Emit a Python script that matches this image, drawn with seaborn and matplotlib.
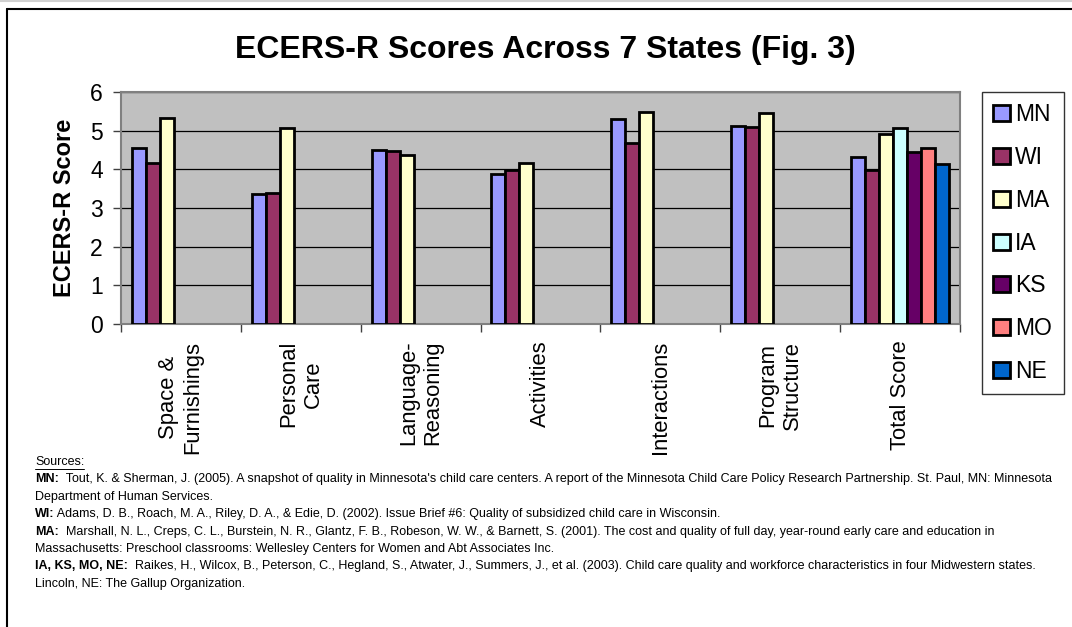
import pandas as pd
import matplotlib.pyplot as plt
import seaborn as sns
from matplotlib.lines import Line2D

# Data
categories = ['Space &\nFurnishings', 'Personal\nCare', 'Language-\nReasoning', 'Activities',
              'Interactions', 'Program\nStructure', 'Total Score']
states = ['MN', 'WI', 'MA', 'IA', 'KS', 'MO', 'NE']
colors = ['#9999FF', '#993366', '#FFFFCC', '#CCFFFF', '#660066', '#FF8080', '#0066CC']

mn = [4.56, 3.37, 4.51, 3.87, 5.31, 5.11, 4.33]
wi = [4.17, 3.39, 4.48, 3.98, 4.68, 5.09, 3.98]
ma = [5.32, 5.07, 4.37, 4.17, 5.47, 5.45, 4.92]
ia_total = 5.07
ks_total = 4.45
mo_total = 4.55
ne_total = 4.15

rows = []
for i, cat in enumerate(categories):
    rows.append((cat, 'MN', mn[i]))
    rows.append((cat, 'WI', wi[i]))
    rows.append((cat, 'MA', ma[i]))
rows.append(('Total Score', 'IA', ia_total))
rows.append(('Total Score', 'KS', ks_total))
rows.append(('Total Score', 'MO', mo_total))
rows.append(('Total Score', 'NE', ne_total))
data = pd.DataFrame(rows, columns=['Category', 'State', 'Score'])

sns.set_style('white')
plt.rcParams['font.family'] = ['Liberation Sans', 'DejaVu Sans']
plt.rcParams['text.color'] = 'black'
plt.rcParams['axes.labelcolor'] = 'black'
plt.rcParams['xtick.color'] = 'black'
plt.rcParams['ytick.color'] = 'black'

W, H = 1072, 627
fig = plt.figure(figsize=(W / 100, H / 100), dpi=100)
ax = fig.add_axes([121 / W, 1 - 324 / H, (960 - 121) / W, (324 - 92) / H])
ax.set_facecolor('#C0C0C0')

sns.barplot(data=data, x='Category', y='Score', hue='State', order=categories,
            hue_order=states, palette=colors, saturation=1, width=0.82,
            edgecolor='black', linewidth=2, ax=ax, zorder=3)

ax.set_xlim(-0.5, len(categories) - 0.5)
ax.set_ylim(0, 6)
ax.set_yticks(range(7))
ax.grid(axis='y', color='black', linewidth=0.9, zorder=1)
ax.set_axisbelow(True)
for s in ax.spines.values():
    s.set_color('#808080')
    s.set_linewidth(1.5)

ax.set_xlabel('')
ax.set_ylabel('ECERS-R Score', fontsize=17, fontweight='bold')
ax.yaxis.set_label_coords(-0.054, 0.5)
ax.tick_params(axis='y', labelsize=16.5, length=6, width=1, color='#404040', pad=7, left=True)
ax.set_xticks(range(len(categories)))
ax.set_xticklabels(categories, rotation=90, fontsize=15.8, va='top', ha='center',
                   multialignment='center')
ax.tick_params(axis='x', length=0, pad=12)
ax.set_xticks([i - 0.5 for i in range(len(categories) + 1)], minor=True)
ax.tick_params(axis='x', which='minor', length=6, width=1, color='#404040', bottom=True)

handles, labels = ax.get_legend_handles_labels()
ax.legend_.remove()
leg = fig.legend(handles, labels, loc='upper left', bbox_to_anchor=(982 / W, 1 - 92 / H),
                 fontsize=16.5, frameon=True, fancybox=False, edgecolor='black',
                 handlelength=0.7, handleheight=0.7, handletextpad=0.25,
                 labelspacing=0.86, borderpad=0.5, borderaxespad=0)
leg.get_frame().set_linewidth(1)

fig.text(545 / W, 1 - 50 / H, 'ECERS-R Scores Across 7 States (Fig. 3)', fontsize=23,
         fontweight='bold', ha='center', va='center')

# Chart area border
fig.add_artist(Line2D([7 / W, 7 / W], [0, 1 - 9 / H], transform=fig.transFigure, color='black', lw=1.5))
fig.add_artist(Line2D([7 / W, 1], [1 - 9 / H, 1 - 9 / H], transform=fig.transFigure, color='black', lw=1.5))
fig.add_artist(Line2D([0, 1], [1 - 0.5 / H, 1 - 0.5 / H], transform=fig.transFigure, color='#D0D0D0', lw=1.5))

# Sources block
sources = [
    ('', 'Sources:'),
    ('MN:', "  Tout, K. & Sherman, J. (2005). A snapshot of quality in Minnesota's child care centers. A report of the Minnesota Child Care Policy Research Partnership. St. Paul, MN: Minnesota"),
    ('', 'Department of Human Services.'),
    ('WI:', ' Adams, D. B., Roach, M. A., Riley, D. A., & Edie, D. (2002). Issue Brief #6: Quality of subsidized child care in Wisconsin.'),
    ('MA:', '  Marshall, N. L., Creps, C. L., Burstein, N. R., Glantz, F. B., Robeson, W. W., & Barnett, S. (2001). The cost and quality of full day, year-round early care and education in'),
    ('', 'Massachusetts: Preschool classrooms: Wellesley Centers for Women and Abt Associates Inc.'),
    ('IA, KS, MO, NE:', '  Raikes, H., Wilcox, B., Peterson, C., Hegland, S., Atwater, J., Summers, J., et al. (2003). Child care quality and workforce characteristics in four Midwestern states.'),
    ('', 'Lincoln, NE: The Gallup Organization.'),
]
renderer = fig.canvas.get_renderer()
x0 = 35
for i, (bold, rest) in enumerate(sources):
    y = 1 - (462 + i * 17.4) / H
    x = x0
    if bold:
        t = fig.text(x / W, y, bold, fontsize=9.0, fontweight='bold', va='center', ha='left')
        x = t.get_window_extent(renderer).x1
    t2 = fig.text(x / W, y, rest, fontsize=9.0, va='center', ha='left')
    if i == 0:
        ext = t2.get_window_extent(renderer)
        fig.add_artist(Line2D([ext.x0 / W, ext.x1 / W], [(ext.y0 - 1) / H, (ext.y0 - 1) / H],
                              transform=fig.transFigure, color='black', lw=0.7))

fig.savefig('out.png', dpi=100)
